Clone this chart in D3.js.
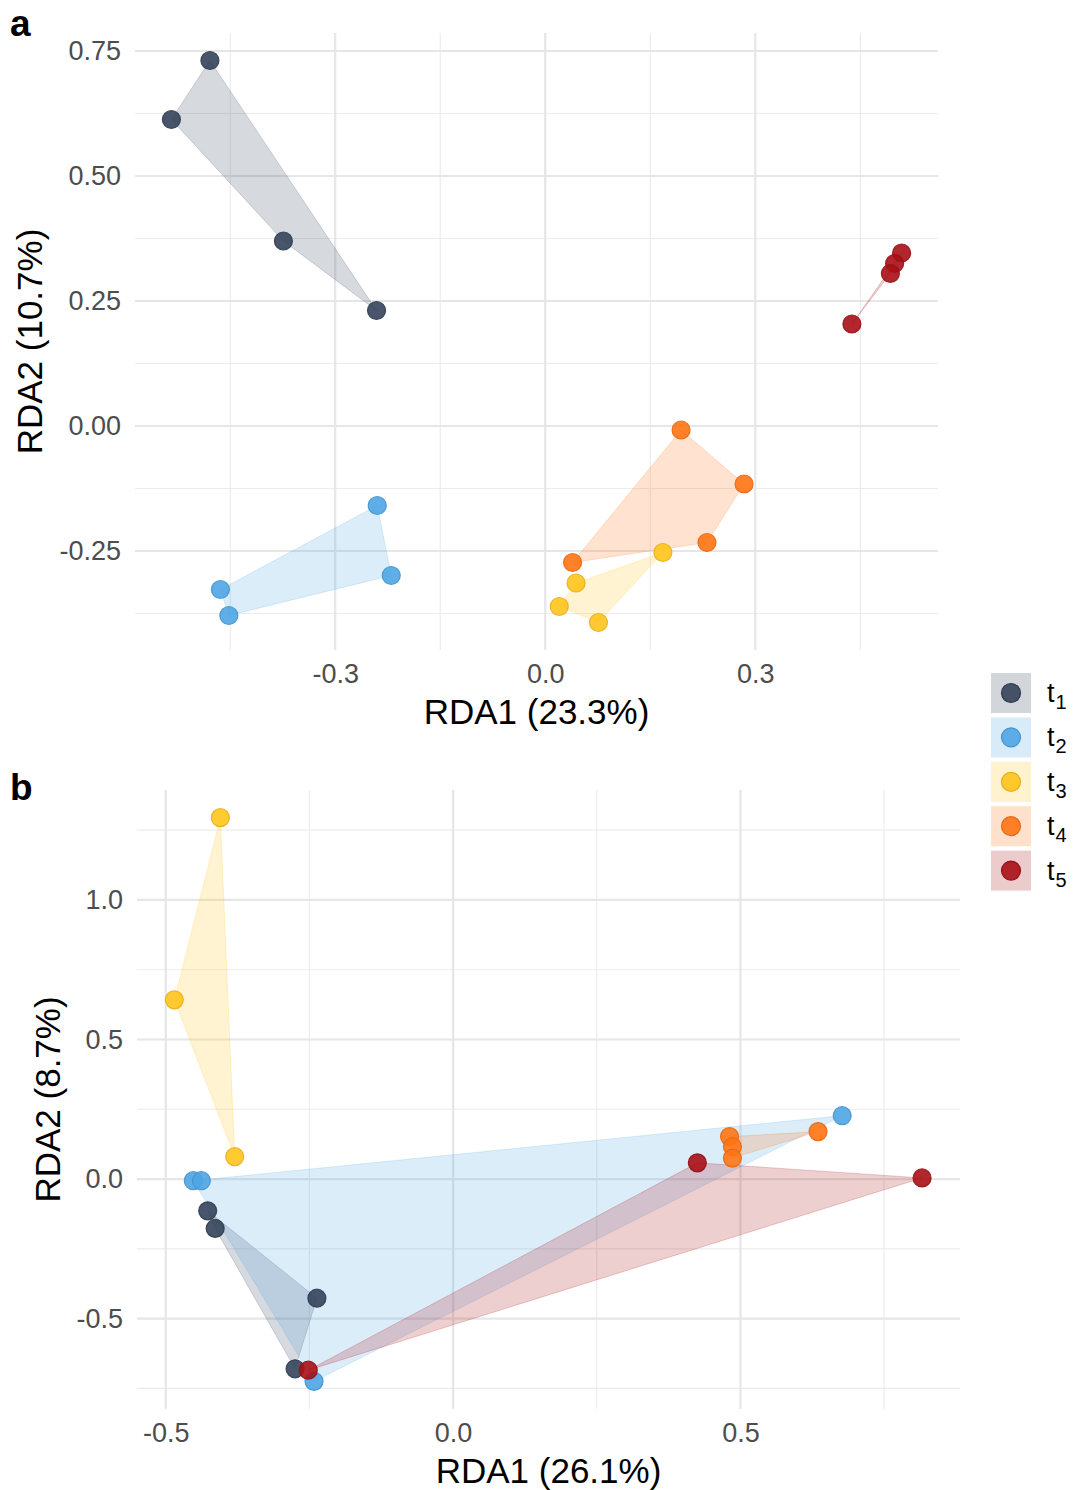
<!DOCTYPE html>
<html>
<head>
<meta charset="utf-8">
<script src="https://cdn.jsdelivr.net/npm/d3@7"></script>
<style>
  body { margin: 0; background: #fff; }
  text { font-family: "Liberation Sans", Arial, sans-serif; }
</style>
</head>
<body>
<div id="chart"></div>
<script>
// time points (legend order)
const timePoints = ["1", "2", "3", "4", "5"];
const pointColors = ["#34435a", "#4ea5e4", "#ffc41c", "#ff7414", "#a81016"];

// panel a: RDA scores
const groupA = [1, 1, 1, 1, 2, 2, 2, 2, 3, 3, 3, 3, 4, 4, 4, 4, 5, 5, 5, 5];
const rda1A = [-0.479, -0.534, -0.374, -0.241, -0.240, -0.220, -0.464, -0.452,
  0.168, 0.044, 0.020, 0.076, 0.194, 0.284, 0.231, 0.039, 0.509, 0.499, 0.493, 0.438];
const rda2A = [0.731, 0.613, 0.370, 0.231, -0.159, -0.299, -0.327, -0.379,
  -0.253, -0.314, -0.361, -0.393, -0.008, -0.116, -0.233, -0.273, 0.346, 0.325, 0.305, 0.204];

// panel b: RDA scores
const groupB = [1, 1, 1, 1, 2, 2, 2, 2, 3, 3, 3, 4, 4, 4, 4, 5, 5, 5];
const rda1B = [-0.427, -0.414, -0.237, -0.275, -0.452, -0.438, -0.242, 0.677,
  -0.405, -0.485, -0.380, 0.481, 0.486, 0.486, 0.635, -0.252, 0.425, 0.816];
const rda2B = [-0.114, -0.177, -0.427, -0.680, -0.006, -0.006, -0.725, 0.227,
  1.295, 0.642, 0.080, 0.152, 0.116, 0.075, 0.170, -0.685, 0.058, 0.004];

// axis ticks
const majorXA = [-0.3, 0, 0.3], minorXA = [-0.45, -0.15, 0.15, 0.45];
const majorYA = [-0.25, 0, 0.25, 0.5, 0.75], minorYA = [-0.375, -0.125, 0.125, 0.375, 0.625];
const majorXB = [-0.5, 0, 0.5], minorXB = [-0.25, 0.25, 0.75];
const majorYB = [-0.5, 0, 0.5, 1.0], minorYB = [-0.75, -0.25, 0.25, 0.75, 1.25];

const svg = d3.select("#chart").append("svg")
  .attr("width", 1075)
  .attr("height", 1490);

function drawPanel(p) {
  const x = d3.scaleLinear().domain(p.xDomain).range([p.left, p.right]);
  const y = d3.scaleLinear().domain(p.yDomain).range([p.bottom, p.top]);
  const g = svg.append("g");

  // grid
  g.selectAll(".mx").data(p.minorX).enter().append("line")
    .attr("x1", d => x(d)).attr("x2", d => x(d)).attr("y1", p.top).attr("y2", p.bottom)
    .attr("stroke", "#ececec").attr("stroke-width", 1.2);
  g.selectAll(".my").data(p.minorY).enter().append("line")
    .attr("y1", d => y(d)).attr("y2", d => y(d)).attr("x1", p.left).attr("x2", p.right)
    .attr("stroke", "#ececec").attr("stroke-width", 1.2);
  g.selectAll(".gx").data(p.majorX).enter().append("line")
    .attr("x1", d => x(d)).attr("x2", d => x(d)).attr("y1", p.top).attr("y2", p.bottom)
    .attr("stroke", "#e6e6e6").attr("stroke-width", 2.2);
  g.selectAll(".gy").data(p.majorY).enter().append("line")
    .attr("y1", d => y(d)).attr("y2", d => y(d)).attr("x1", p.left).attr("x2", p.right)
    .attr("stroke", "#e6e6e6").attr("stroke-width", 2.2);

  const pts = p.group.map((k, i) => ({ k: k, x: p.rda1[i], y: p.rda2[i] }));

  // hulls
  timePoints.forEach((t, i) => {
    const sel = pts.filter(d => d.k === i + 1).map(d => [x(d.x), y(d.y)]);
    const hull = d3.polygonHull(sel);
    if (!hull) return;
    g.append("path")
      .attr("d", "M" + hull.join("L") + "Z")
      .attr("fill", pointColors[i])
      .attr("fill-opacity", 0.2)
      .attr("stroke", pointColors[i])
      .attr("stroke-opacity", 0.2)
      .attr("stroke-width", 1);
  });

  // points
  g.selectAll(".pt").data(pts).enter().append("circle")
    .attr("cx", d => x(d.x))
    .attr("cy", d => y(d.y))
    .attr("r", 9)
    .attr("fill", d => pointColors[d.k - 1])
    .attr("fill-opacity", 0.9)
    .attr("stroke", d => d3.color(pointColors[d.k - 1]).darker(0.3))
    .attr("stroke-opacity", 0.9)
    .attr("stroke-width", 1.2);

  // axes
  const xAxis = g.append("g")
    .attr("transform", `translate(0,${p.bottom})`)
    .call(d3.axisBottom(x).tickValues(p.majorX).tickSize(0).tickPadding(14)
      .tickFormat(d => d.toFixed(p.xDec)));
  const yAxis = g.append("g")
    .attr("transform", `translate(${p.left},0)`)
    .call(d3.axisLeft(y).tickValues(p.majorY).tickSize(0).tickPadding(14)
      .tickFormat(d => d.toFixed(p.yDec)));
  [xAxis, yAxis].forEach(a => {
    a.select(".domain").remove();
    a.selectAll("text")
      .style("font-family", '"Liberation Sans", Arial, sans-serif')
      .style("font-size", "27px")
      .attr("fill", "#4d4d4d");
  });

  g.append("text")
    .attr("x", (p.left + p.right) / 2)
    .attr("y", p.bottom + 74)
    .attr("text-anchor", "middle")
    .style("font-size", "35px")
    .text(p.xTitle);

  g.append("text")
    .attr("transform", `translate(${p.yTitleX},${(p.top + p.bottom) / 2}) rotate(-90)`)
    .attr("text-anchor", "middle")
    .style("font-size", "35px")
    .text(p.yTitle);

  g.append("text")
    .attr("x", 10)
    .attr("y", p.tagY)
    .style("font-size", "37px")
    .style("font-weight", "bold")
    .text(p.tag);
}

drawPanel({
  tag: "a", tagY: 36,
  left: 135, right: 938, top: 33, bottom: 650,
  xDomain: [-0.586, 0.561], yDomain: [-0.448, 0.786],
  majorX: majorXA, minorX: minorXA, majorY: majorYA, minorY: minorYA,
  xDec: 1, yDec: 2,
  group: groupA, rda1: rda1A, rda2: rda2A,
  xTitle: "RDA1 (23.3%)", yTitle: "RDA2 (10.7%)", yTitleX: 42
});

drawPanel({
  tag: "b", tagY: 800,
  left: 137, right: 960, top: 790, bottom: 1409,
  xDomain: [-0.55, 0.882], yDomain: [-0.824, 1.394],
  majorX: majorXB, minorX: minorXB, majorY: majorYB, minorY: minorYB,
  xDec: 1, yDec: 1,
  group: groupB, rda1: rda1B, rda2: rda2B,
  xTitle: "RDA1 (26.1%)", yTitle: "RDA2 (8.7%)", yTitleX: 60
});

// legend
const legend = svg.append("g").attr("transform", "translate(991,673)");
timePoints.forEach((t, i) => {
  const row = legend.append("g").attr("transform", `translate(0,${i * 44.4})`);
  row.append("rect")
    .attr("width", 40).attr("height", 40)
    .attr("fill", pointColors[i]).attr("fill-opacity", 0.22);
  row.append("circle")
    .attr("cx", 20).attr("cy", 20).attr("r", 9.5)
    .attr("fill", pointColors[i]).attr("fill-opacity", 0.9)
    .attr("stroke", d3.color(pointColors[i]).darker(0.3)).attr("stroke-width", 1.2);
  const lab = row.append("text")
    .attr("x", 56).attr("y", 29)
    .style("font-size", "27px");
  lab.append("tspan").text("t");
  lab.append("tspan").attr("dx", 1).attr("dy", 7).style("font-size", "20px").text(t);
});
</script>
</body>
</html>
